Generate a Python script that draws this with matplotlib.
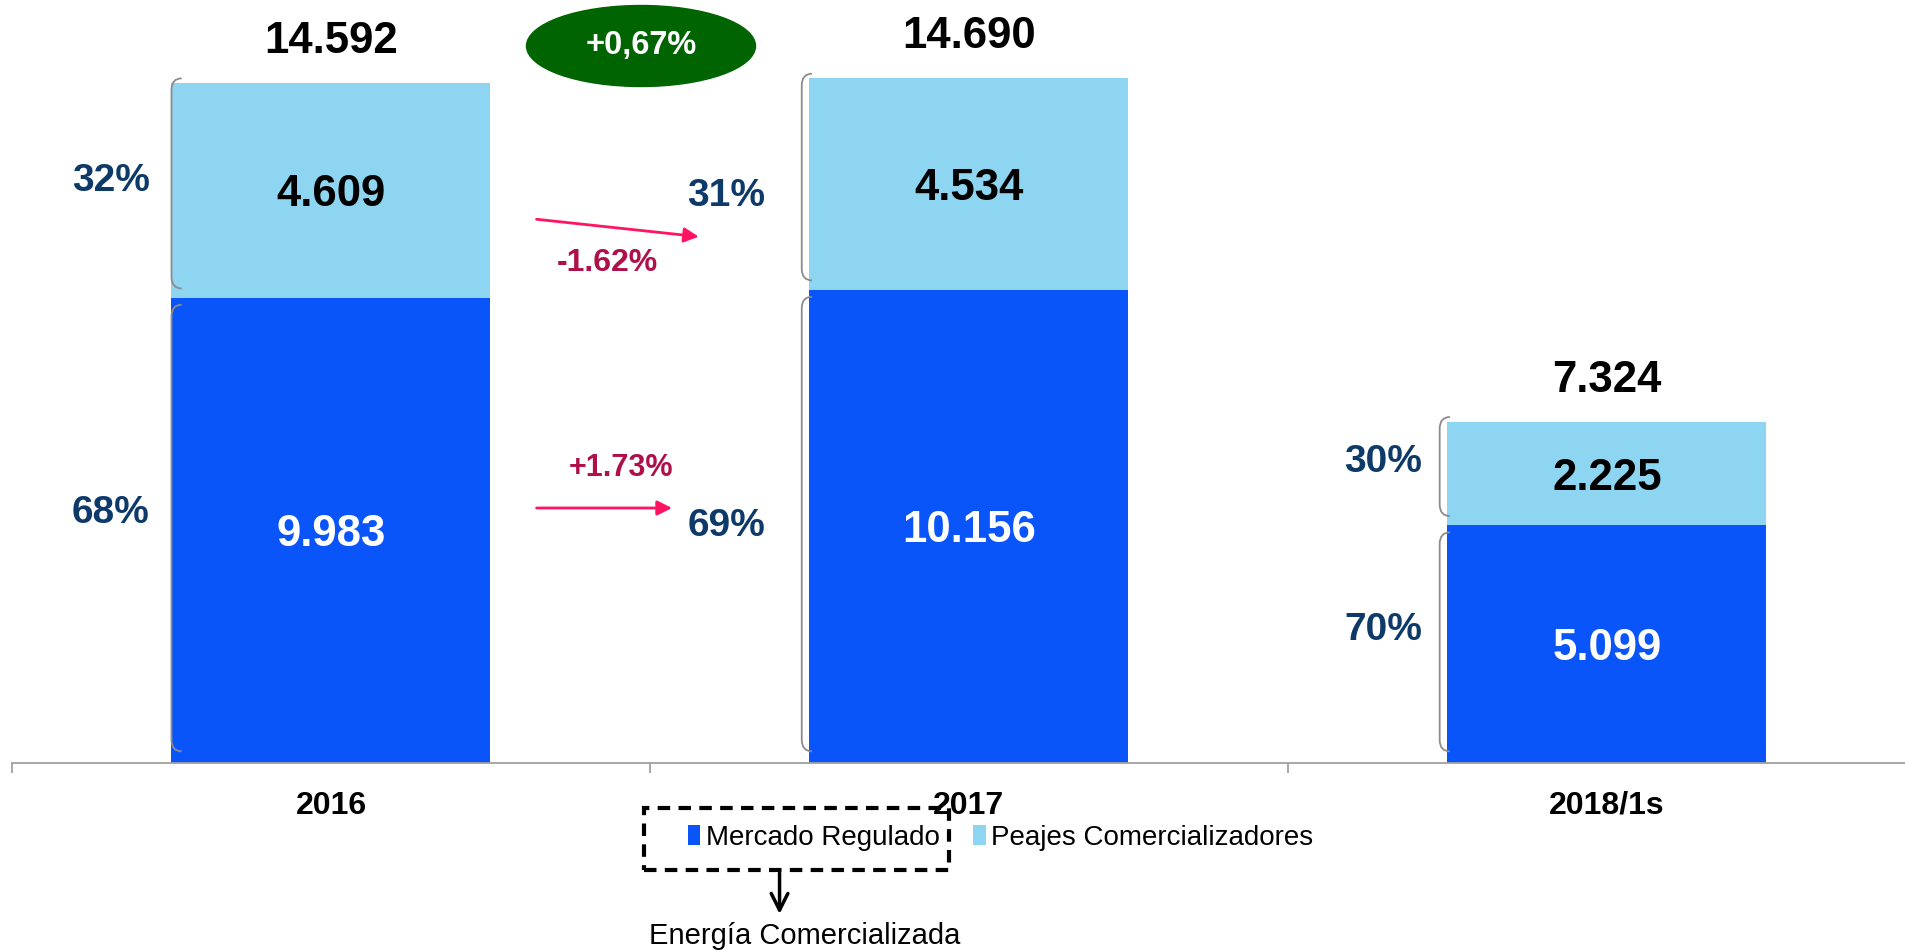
import matplotlib.pyplot as plt
from matplotlib.patches import Ellipse, Rectangle, FancyArrowPatch
from matplotlib.path import Path
from matplotlib.patches import PathPatch

# Datos (GWh)
years = ['2016', '2017', '2018/1s']
mercado = [9983, 10156, 5099]
peajes = [4609, 4534, 2225]
totals = [14592, 14690, 7324]
pct_mercado = ['68%', '69%', '70%']
pct_peajes = ['32%', '31%', '30%']
var_total = '+0,67%'
var_peajes = '-1.62%'
var_mercado = '+1.73%'

col_mercado = '#0A55FA'
col_peajes = '#8DD5F0'
col_pct = '#0E3A6A'
col_arrow = '#FF1464'
col_var = '#B0104A'

plt.rcParams['font.family'] = ['Liberation Sans', 'DejaVu Sans']

PX = 21  # desplazamiento vertical en unidades de datos


def brace(ax, x, y0, y1, w=0.016, r=250):
    # corchete gris a la izquierda de cada segmento
    verts = [(x + w, y1), (x, y1), (x, y1 - r),
             (x, y0 + r), (x, y0), (x + w, y0)]
    codes = [Path.MOVETO, Path.CURVE3, Path.CURVE3,
             Path.LINETO, Path.CURVE3, Path.CURVE3]
    ax.add_patch(PathPatch(Path(verts, codes), fill=False, ec='#8C8C8C', lw=1.3))


def main():
    fig = plt.figure(figsize=(19.06, 9.5), dpi=100)
    ax = fig.add_axes([12 / 1906, 187 / 950, 1894 / 1906, 763 / 950])
    x = list(range(len(years)))
    width = 0.5

    ax.bar(x, mercado, width, color=col_mercado, label='Mercado Regulado')
    ax.bar(x, peajes, width, bottom=mercado, color=col_peajes, label='Peajes Comercializadores')

    ax.set_xlim(-0.5, 2.469)
    ax.set_ylim(0, 16373)

    pct_dx = [0.095, 0.13, 0.10]
    dy_merc = [18, 0, 14]
    dy_peaj = [10, -12, 12]
    for i in x:
        m, p = mercado[i], peajes[i]
        ax.text(i, m / 2, f'{m:,}'.replace(',', '.'), ha='center', va='center_baseline',
                color='white', fontsize=31.5, fontweight='bold')
        ax.text(i, m + p / 2, f'{p:,}'.replace(',', '.'), ha='center', va='center_baseline',
                color='black', fontsize=31.5, fontweight='bold')
        ax.annotate(f'{totals[i]:,}'.replace(',', '.'), (i, m + p), xytext=(0, 30),
                    textcoords='offset points', ha='center', va='center',
                    fontsize=31.5, fontweight='bold')
        left = i - width / 2
        ax.text(left - pct_dx[i], m / 2 + dy_merc[i] * PX, pct_mercado[i], ha='center',
                va='center', color=col_pct, fontsize=28, fontweight='bold')
        ax.text(left - pct_dx[i], m + p / 2 + dy_peaj[i] * PX, pct_peajes[i], ha='center',
                va='center', color=col_pct, fontsize=28, fontweight='bold')
        bx = left + (0.0 if i == 0 else -0.012)
        brace(ax, bx, 250, m - 150)
        brace(ax, bx, m + 200, m + p + 100)

    # variación total
    ax.add_patch(Ellipse((0.486, 15386), 0.359, 1738, color='#006400'))
    ax.text(0.486, 15386, var_total, ha='center', va='center', color='white',
            fontsize=23.5, fontweight='bold')

    # flechas de variación
    ax.annotate('', xy=(0.581, 11288), xytext=(0.318, 11674),
                arrowprops=dict(arrowstyle='-|>', color=col_arrow, lw=2, mutation_scale=22))
    ax.text(0.433, 10730, var_peajes, ha='center', va='center', color=col_var,
            fontsize=23, fontweight='bold')
    ax.annotate('', xy=(0.539, 5472), xytext=(0.318, 5472),
                arrowprops=dict(arrowstyle='-|>', color=col_arrow, lw=2, mutation_scale=22))
    ax.text(0.455, 6320, var_mercado, ha='center', va='center', color=col_var,
            fontsize=22, fontweight='bold')

    # ejes
    for s in ['top', 'right', 'left']:
        ax.spines[s].set_visible(False)
    ax.spines['bottom'].set_color('#A0A0A0')
    ax.spines['bottom'].set_linewidth(1.3)
    ax.set_yticks([])
    ax.set_xticks(x)
    ax.set_xticklabels(years, fontsize=23, fontweight='bold')
    ax.tick_params(axis='x', which='major', length=0, pad=20)
    ax.set_xticks([-0.5, 0.5, 1.5], minor=True)
    ax.tick_params(axis='x', which='minor', length=7, color='#A0A0A0', width=1.3)

    # leyenda
    fig.legend(loc='center', bbox_to_anchor=(0.525, 0.118), ncol=2, frameon=False,
               fontsize=20, handlelength=0.45, handleheight=0.7, handletextpad=0.2,
               columnspacing=1.2)

    fig.patches.append(Rectangle((0.338, 0.084), 0.160, 0.065, transform=fig.transFigure,
                                 fill=False, ec='black', lw=3, ls=(0, (3, 2))))
    fig.patches.append(FancyArrowPatch((0.409, 0.084), (0.409, 0.035),
                                       transform=fig.transFigure, arrowstyle='->',
                                       mutation_scale=30, lw=2.5, color='black'))
    fig.text(0.422, 0.015, 'Energía Comercializada', ha='center', va='center', fontsize=21)

    fig.savefig('out.png', dpi=100)


if __name__ == "__main__":
    main()
